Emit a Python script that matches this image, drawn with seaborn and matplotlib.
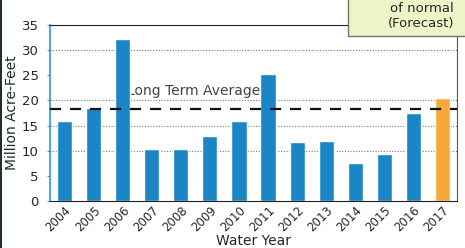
import numpy as np
import pandas as pd
import seaborn as sns
import matplotlib.pyplot as plt
from matplotlib.patches import Rectangle

years = [str(y) for y in range(2004, 2018)]
volumes = [16.0, 18.5, 32.2, 10.3, 10.3, 13.0, 16.0, 25.2, 11.8, 11.9, 7.5, 9.3, 17.5, 20.5]
kind = ["Observed"] * 13 + ["Forecast"]
long_term_avg = 18.3
grid_levels = [10, 15, 20, 30]

df = pd.DataFrame({"Water Year": years, "Volume": volumes, "Kind": kind})

sns.set_style("white")
plt.rcParams["font.family"] = ["DejaVu Sans"]

W, H = 465, 248
fig = plt.figure(figsize=(W / 100, H / 100), dpi=100)
ax = fig.add_axes([50 / W, 1 - 201 / H, 407 / W, 176 / H])

for g in grid_levels:
    ax.axhline(g, color="#777777", lw=0.8, ls=(0, (1, 1.5)), zorder=0)

sns.barplot(data=df, x="Water Year", y="Volume", hue="Kind",
            palette={"Observed": "#1a86c6", "Forecast": "#f6a93b"},
            saturation=1, width=0.52, legend=False, ax=ax, zorder=2)

ax.axhline(long_term_avg, color="#111111", lw=1.6, ls=(0, (5, 4)), zorder=3)
ax.text(2.15, 21.8, "Long Term Average", fontsize=10, color="#444444",
        va="center", ha="left", zorder=1)

ax.set_ylim(0, 35)
ax.set_xlim(-0.5, 13.5)
ax.set_yticks(range(0, 36, 5))
ax.tick_params(axis="y", labelsize=9.5, length=2, pad=6, color="#2a9ad8", left=True)
ax.tick_params(axis="x", labelsize=8.5, length=0, pad=2)
plt.setp(ax.get_xticklabels(), rotation=45, ha="right", rotation_mode="anchor")
ax.set_xlabel("Water Year", fontsize=10, labelpad=0)
ax.set_ylabel("Million Acre-Feet", fontsize=10)
ax.yaxis.set_label_coords(-31 / 407, 0.5)

for s in ax.spines.values():
    s.set_visible(True)
ax.spines["left"].set_color("#2a9ad8")
ax.spines["left"].set_linewidth(1.2)
ax.spines["bottom"].set_color("#222222")
ax.spines["top"].set_color("#222222")
ax.spines["right"].set_color("#555555")
ax.spines["right"].set_linewidth(0.8)

# forecast callout box, cut off by the crop
fig.patches.append(Rectangle((348 / W, 1 - 36 / H), 130 / W, 40 / H,
                             transform=fig.transFigure, facecolor="#eef3c8",
                             edgecolor="#777766", lw=1.0, zorder=5))
fig.text(454 / W, 1 - 8 / H, "of normal", ha="right", va="center", fontsize=9.5, zorder=6)
fig.text(454 / W, 1 - 24 / H, "(Forecast)", ha="right", va="center", fontsize=9.5, zorder=6)

# dark edge on the left of the screenshot
fig.patches.append(Rectangle((0, 0), 2 / W, 1, transform=fig.transFigure,
                             facecolor="#1e3320", edgecolor="none", zorder=5))

fig.savefig("out.png", dpi=100)
